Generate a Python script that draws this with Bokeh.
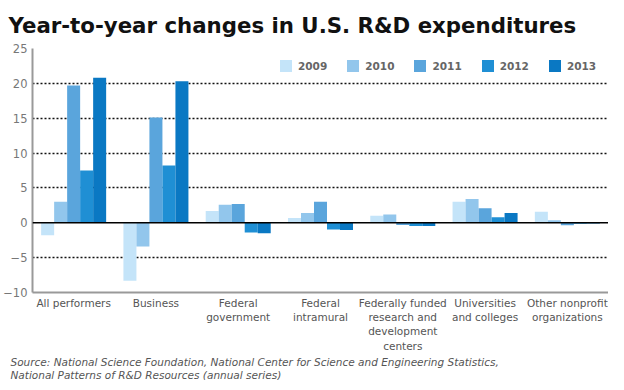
from bokeh.plotting import figure
from bokeh.models import Range1d, FixedTicker, Span, Title
from bokeh.embed import file_html
from bokeh.resources import INLINE

categories = ["All performers", "Business", "Federal\ngovernment", "Federal\nintramural",
              "Federally funded\nresearch and\ndevelopment\ncenters", "Universities\nand colleges",
              "Other nonprofit\norganizations"]
years = ["2009", "2010", "2011", "2012", "2013"]
v2009 = [-1.8, -8.3, 1.7, 0.7, 1.0, 3.0, 1.6]
v2010 = [3.0, -3.4, 2.6, 1.4, 1.2, 3.4, 0.35]
v2011 = [19.7, 15.1, 2.7, 3.0, -0.3, 2.1, -0.35]
v2012 = [7.5, 8.2, -1.4, -0.95, -0.45, 0.8, -0.15]
v2013 = [20.8, 20.3, -1.5, -1.05, -0.45, 1.4, -0.1]
colors = ["#c4e4f9", "#92c6ec", "#5aa5dc", "#1f8fd4", "#0a78c3"]
yticks = [-10, -5, 0, 5, 10, 15, 20, 25]

series = [v2009, v2010, v2011, v2012, v2013]

p = figure(width=608, height=380, x_range=Range1d(-0.5, 6.5), y_range=Range1d(-10, 25),
           output_backend="svg", toolbar_location=None,
           min_border_left=24, min_border_right=0, min_border_top=10, min_border_bottom=0)

p.title.text = "Year-to-year changes in U.S. R&D expenditures"
p.title.text_font = "DejaVu Sans"
p.title.text_font_style = "bold"
p.title.text_font_size = "21.3px"
p.title.text_color = "#111111"
p.title.offset = -24
p.title.standoff = 21

bw = 0.158
offsets = [-2 * bw, -bw, 0, bw, 2 * bw]
xs = list(range(len(categories)))
for yr, vals, col, off in zip(years, series, colors, offsets):
    p.vbar(x=[x + off for x in xs], top=vals, bottom=0, width=bw, fill_color=col,
           line_color=None, legend_label=yr)

p.outline_line_color = None
p.xgrid.visible = False
p.ygrid.ticker = FixedTicker(ticks=[-5, 5, 10, 15, 20, 25])
p.ygrid.grid_line_color = "#111111"
p.ygrid.grid_line_dash = "2 2"
p.ygrid.grid_line_width = 1.5

p.add_layout(Span(location=0, dimension="width", line_color="#000000", line_width=1.5))

p.yaxis.ticker = FixedTicker(ticks=yticks)
p.yaxis.axis_line_color = "#999999"
p.yaxis.axis_line_width = 2
p.yaxis.major_tick_line_color = None
p.yaxis.minor_tick_line_color = None
p.yaxis.major_tick_out = 0
p.yaxis.major_tick_in = 0
p.yaxis.major_label_text_font = "DejaVu Sans"
p.yaxis.major_label_text_font_size = "11.5px"
p.yaxis.major_label_text_color = "#777777"
p.yaxis.major_label_standoff = 5

p.xaxis.ticker = FixedTicker(ticks=xs)
p.xaxis.major_label_overrides = {i: c for i, c in enumerate(categories)}
p.xaxis.axis_line_color = "#999999"
p.xaxis.axis_line_width = 2
p.xaxis.major_tick_line_color = None
p.xaxis.minor_tick_line_color = None
p.xaxis.major_tick_out = 0
p.xaxis.major_tick_in = 0
p.xaxis.major_label_text_font = "DejaVu Sans"
p.xaxis.major_label_text_font_size = "10.5px"
p.xaxis.major_label_text_color = "#555555"
p.xaxis.major_label_standoff = 4

src1 = "Source: National Science Foundation, National Center for Science and Engineering Statistics,"
src2 = "National Patterns of R&D Resources (annual series)"
for s in [src1, src2]:
    t = Title(text=s, align="left", text_font="DejaVu Sans", text_font_style="italic",
              text_font_size="10.5px", text_color="#555555", offset=-22, standoff=-1)
    p.add_layout(t, "below")

lg = p.legend[0]
lg.orientation = "horizontal"
lg.location = (246, 219)
lg.border_line_color = None
lg.background_fill_alpha = 0
lg.glyph_width = 15
lg.glyph_height = 15
lg.label_height = 15
lg.label_text_font = "DejaVu Sans"
lg.label_text_font_style = "bold"
lg.label_text_font_size = "10.5px"
lg.label_text_color = "#666666"
lg.label_standoff = 5
lg.spacing = 18
lg.padding = 0
lg.margin = 0

open("out.html", "w").write(file_html(p, INLINE))
